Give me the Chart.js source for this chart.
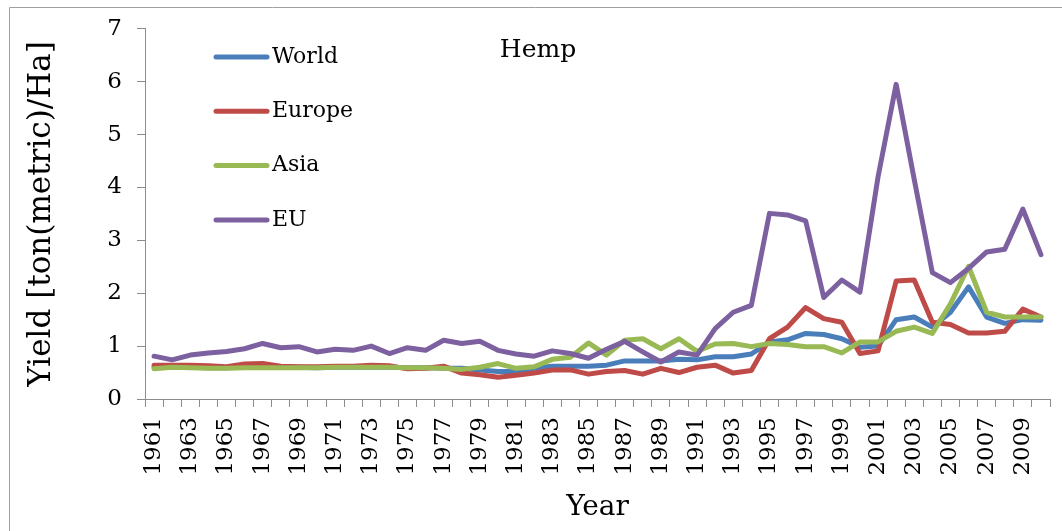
<!DOCTYPE html>
<html>
<head>
<meta charset="utf-8">
<script src="https://cdn.jsdelivr.net/npm/chart.js@4"></script>
<style>
  html, body { margin: 0; padding: 0; background: #fff; }
  #wrap { width: 1062px; height: 531px; }
</style>
</head>
<body>
<div id="wrap"><canvas id="hemp" width="1062" height="531"></canvas></div>
<script>
// years on the x axis
var years = [];
for (var y = 1961; y <= 2010; y++) years.push(String(y));

// yield, ton(metric)/Ha
var world = [0.60, 0.60, 0.60, 0.59, 0.59, 0.60, 0.60, 0.60, 0.60, 0.59,
             0.60, 0.60, 0.60, 0.60, 0.59, 0.59, 0.58, 0.58, 0.55, 0.52,
             0.52, 0.58, 0.62, 0.62, 0.62, 0.64, 0.72, 0.72, 0.72, 0.75,
             0.74, 0.80, 0.80, 0.85, 1.08, 1.12, 1.24, 1.22, 1.14, 0.98,
             1.00, 1.50, 1.55, 1.36, 1.64, 2.12, 1.55, 1.43, 1.50, 1.49];
var europe = [0.64, 0.64, 0.64, 0.63, 0.61, 0.66, 0.67, 0.62, 0.61, 0.61,
              0.62, 0.62, 0.64, 0.63, 0.57, 0.58, 0.62, 0.49, 0.46, 0.41,
              0.45, 0.49, 0.55, 0.55, 0.47, 0.52, 0.54, 0.47, 0.58, 0.50,
              0.60, 0.64, 0.49, 0.54, 1.14, 1.36, 1.73, 1.52, 1.45, 0.86,
              0.91, 2.23, 2.25, 1.45, 1.41, 1.25, 1.25, 1.28, 1.70, 1.55];
var asia = [0.57, 0.60, 0.59, 0.58, 0.58, 0.59, 0.59, 0.59, 0.59, 0.59,
            0.60, 0.60, 0.60, 0.60, 0.59, 0.59, 0.58, 0.56, 0.60, 0.67,
            0.58, 0.61, 0.75, 0.79, 1.06, 0.83, 1.11, 1.14, 0.95, 1.14,
            0.90, 1.04, 1.05, 0.99, 1.05, 1.03, 0.99, 0.99, 0.87, 1.08,
            1.08, 1.28, 1.36, 1.24, 1.80, 2.51, 1.64, 1.55, 1.55, 1.55];
var eu = [0.81, 0.74, 0.83, 0.87, 0.90, 0.95, 1.05, 0.97, 0.99, 0.89,
          0.94, 0.92, 1.00, 0.86, 0.97, 0.92, 1.11, 1.05, 1.09, 0.92,
          0.85, 0.81, 0.91, 0.86, 0.77, 0.94, 1.09, 0.89, 0.70, 0.89,
          0.83, 1.33, 1.64, 1.77, 3.51, 3.48, 3.37, 1.92, 2.25, 2.02,
          4.20, 5.95, 4.15, 2.39, 2.20, 2.47, 2.78, 2.83, 3.59, 2.73];

var seriesNames = ['World', 'Europe', 'Asia', 'EU'];
var seriesColors = ['#4a7ebb', '#be4b48', '#98b954', '#7d60a0'];

var serif = "'DejaVu Serif', serif";
var axisGrey = '#8c8c8c';

// title, legend and frame are drawn by hand so they can sit inside the plot
var decor = {
    id: 'decor',
    afterDraw: function (chart) {
        var c = chart.ctx;
        c.save();
        // outer frame (only left and top edges are visible in the picture)
        c.strokeStyle = '#a0a0a0';
        c.lineWidth = 1;
        c.beginPath();
        c.moveTo(9.5, 531);
        c.lineTo(9.5, 7.5);
        c.lineTo(1062, 7.5);
        c.stroke();

        c.fillStyle = '#000';
        c.font = '25px ' + serif;
        c.textAlign = 'center';
        c.textBaseline = 'alphabetic';
        c.fillText('Hemp', 538, 57);

        c.font = '22px ' + serif;
        c.textAlign = 'left';
        c.textBaseline = 'middle';
        chart.data.datasets.forEach(function (ds, i) {
            var yy = 57 + i * 54.3;
            c.strokeStyle = ds.borderColor;
            c.lineWidth = 5;
            c.lineCap = 'round';
            c.beginPath();
            c.moveTo(216, yy);
            c.lineTo(267, yy);
            c.stroke();
            c.fillText(ds.label, 272, yy);
        });
        c.restore();
    }
};

var ctx = document.getElementById('hemp').getContext('2d');
var allSeries = [world, europe, asia, eu];
var chart = new Chart(ctx, {
    type: 'line',
    data: {
        labels: years,
        datasets: allSeries.map(function (vals, i) {
            return {
                label: seriesNames[i],
                data: vals,
                borderColor: seriesColors[i],
                backgroundColor: seriesColors[i],
                borderWidth: 5,
                borderCapStyle: 'round',
                borderJoinStyle: 'round',
                pointRadius: 0,
                tension: 0,
                order: 4 - i
            };
        })
    },
    options: {
        responsive: false,
        animation: false,
        layout: { padding: { left: 10, right: 12, top: 24, bottom: 0 } },
        plugins: {
            legend: { display: false },
            title: { display: false },
            tooltip: { enabled: false }
        },
        scales: {
            x: {
                offset: true,
                grid: { offset: true, drawOnChartArea: false, color: axisGrey, tickLength: 8 },
                border: { color: axisGrey },
                ticks: {
                    autoSkip: false,
                    minRotation: 90,
                    maxRotation: 90,
                    padding: 10,
                    color: '#000',
                    font: { family: serif, size: 23 },
                    callback: function (v, i) { return i % 2 === 0 ? years[i] : ''; }
                },
                title: {
                    display: true,
                    text: 'Year',
                    color: '#000',
                    font: { family: serif, size: 28 },
                    padding: { top: 0, bottom: 6 }
                },
                afterFit: function (s) {
                    s.height = 132;
                    s.paddingLeft = 0;
                    s.paddingRight = 0;
                }
            },
            y: {
                min: 0,
                max: 7,
                ticks: {
                    stepSize: 1,
                    padding: 15,
                    color: '#000',
                    font: { family: serif, size: 23 }
                },
                grid: { drawOnChartArea: false, color: axisGrey, tickLength: 8 },
                border: { color: axisGrey },
                title: {
                    display: true,
                    text: 'Yield [ton(metric)/Ha]',
                    color: '#000',
                    font: { family: serif, size: 31 },
                    padding: { top: 13, bottom: 0 }
                },
                afterFit: function (s) { s.width = 135; }
            }
        }
    },
    plugins: [decor]
});
</script>
</body>
</html>
